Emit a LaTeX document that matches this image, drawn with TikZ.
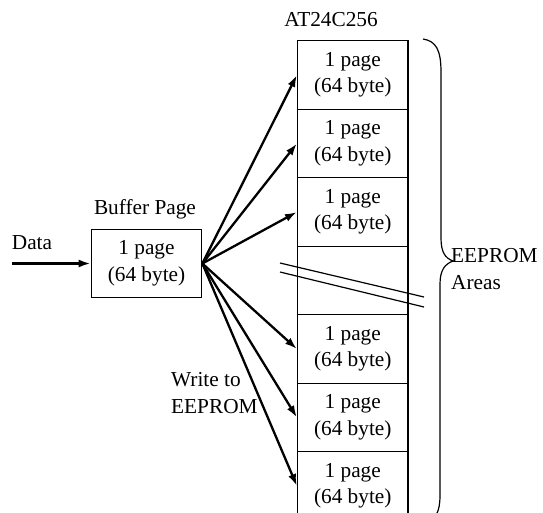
\documentclass[tikz,border=0pt]{standalone}
\usepackage{fontspec}
\setmainfont{Liberation Serif}
\usetikzlibrary{positioning,calc,arrows,arrows.meta}
\tikzset{font=\fontsize{21.3}{26.5}\selectfont}

\begin{document}
\begin{tikzpicture}[x=1pt, y=-1pt]
	\useasboundingbox (0, 0) rectangle (543, 512);
	\clip (0, 0) rectangle (543, 512);
	\begin{scope}
		\tikzstyle{every node}=[align=center, inner sep=1pt]
		\tikzstyle{cell}=[draw, line width=1.2pt, minimum width=110.5pt, minimum height=68.5pt]
		\tikzstyle{wr}=[line width=2.3pt, -{Latex[length=12pt, width=8pt]}]

		\node (chip) at (331, 20) {AT24C256};
		\node[cell] (p1) at (352.75, 75) {1 page\\(64 byte)};
		\node[cell] (p2) at (352.75, 143.5) {1 page\\(64 byte)};
		\node[cell] (p3) at (352.75, 212) {1 page\\(64 byte)};
		\node[cell] (gap) at (352.75, 280.5) {};
		\node[cell] (p4) at (352.75, 349) {1 page\\(64 byte)};
		\node[cell] (p5) at (352.75, 417.5) {1 page\\(64 byte)};
		\node[cell] (p6) at (352.75, 486) {1 page\\(64 byte)};

		\node (buflabel) at (145, 209) {Buffer Page};
		\node[cell] (buf) at (146.5, 263.5) {1 page\\(64 byte)};
		\node (data) at (32, 243) {Data};
		\coordinate (datain) at (12, 263.5);
		\node[align=left, anchor=west] (write) at (170, 393) {Write to\\EEPROM};
		\node[align=left, anchor=west] (areas) at (450, 269) {EEPROM\\Areas};

		\draw[wr] (datain) -- (buf.west);
		\draw[wr] (buf.east) -- (p1.west);
		\draw[wr] (buf.east) -- (p2.west);
		\draw[wr] (buf.east) -- (p3.west);
		\draw[wr] (buf.east) -- (p4.west);
		\draw[wr] (buf.east) -- (p5.west);
		\draw[wr] (buf.east) -- (p6.west);

		% break marks across the empty cell
		\draw[line width=1.2pt] (280, 263) -- (424, 297);
		\draw[line width=1.2pt] (280, 272) -- (424, 307);

		% brace
		\draw[line width=1.2pt] (423, 39) .. controls (436, 41) and (441, 50) .. (441, 72)
			-- (441, 238) .. controls (441, 252) and (445, 258) .. (453, 261)
			.. controls (445, 264) and (440, 270) .. (440, 284)
			-- (440, 495) .. controls (440, 512) and (436, 520) .. (423, 524);
	\end{scope}
\end{tikzpicture}
\end{document}
